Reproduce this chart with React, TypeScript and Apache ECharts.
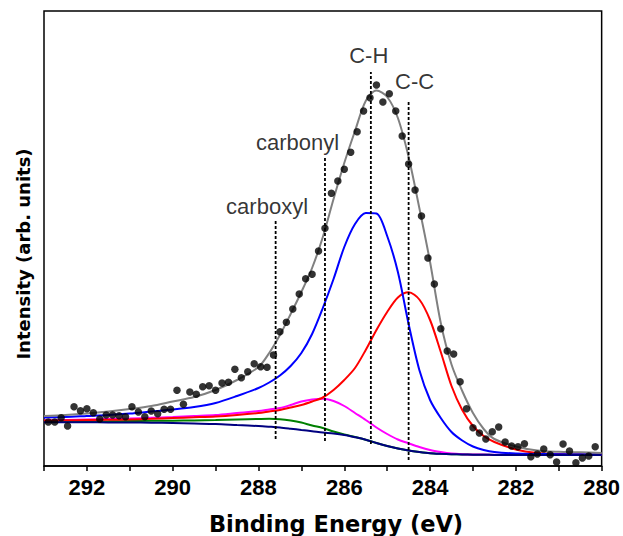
import React, { useEffect, useRef } from 'react';
import * as echarts from 'echarts';

// Binding energies (eV) at which the fitted curves were read
const CURVE_X = [293, 292.5, 292, 291.5, 291, 290.5, 290, 289.5, 289, 288.5, 288, 287.75, 287.5, 287.25, 287, 286.75, 286.5, 286.25, 286, 285.75, 285.5, 285.25, 285, 284.75, 284.5, 284.25, 284, 283.75, 283.5, 283.25, 283, 282.75, 282.5, 282, 281.5, 281, 280.5, 280];

// Fitted envelope (grey)
const ENVELOPE = [50, 51, 52.5, 54.5, 57, 60, 64.5, 69, 76, 86, 99, 113, 131, 152, 174, 198, 229, 267, 303, 335, 365, 375.5, 369, 348, 309, 258, 204, 143, 101.5, 75, 53, 37, 27, 19.5, 15.5, 14.2, 13.7, 13];
// C-H component (blue)
const CH_PEAK = [48.5, 49, 50, 51, 52.5, 54.5, 56.5, 59, 63, 70, 78, 83.5, 90.5, 100, 113, 132, 158, 187, 219, 242, 253, 252.5, 230, 194, 142, 96, 66, 48, 34, 25.5, 19.5, 16, 14, 12.5, 12, 11.8, 11.7, 11.6];
// C-C component (red)
const CC_PEAK = [45.5, 45.7, 46, 46.2, 46.5, 47.2, 48, 48.7, 49.5, 51, 53, 54.5, 56, 58.5, 61, 64.5, 68.5, 76, 86, 98, 116, 136, 154, 168.5, 173.7, 166.5, 146, 114, 80, 56, 40, 30, 24, 16.5, 13, 12, 11.7, 11.5];
// carbonyl component (magenta)
const CARBONYL_PEAK = [45.5, 46, 46.5, 47, 47.5, 48.2, 49, 50, 51, 53, 55, 56.5, 58, 61, 64.5, 66.5, 67.3, 65, 60, 53, 46, 38.5, 32, 26.5, 22.7, 19, 16, 14, 12.5, 11.8, 11.5, 11.4, 11.3, 11.3, 11.2, 11.2, 11.2, 11.2];
// carboxyl component (green)
const CARBOXYL_PEAK = [44.3, 44.4, 44.5, 44.7, 45, 45.2, 45.3, 45.6, 46, 46.5, 47, 47.2, 46.8, 45.5, 43.5, 40.5, 38, 34.5, 31.5, 29, 26.3, 23, 20, 17.5, 15.5, 14, 12.8, 12.2, 11.8, 11.5, 11.3, 11.2, 11.1, 11, 11, 11, 11, 11];
// background (navy)
const BACKGROUND = [43.7, 43.7, 43.7, 43.6, 43.5, 43.3, 43, 42.5, 42, 41, 40, 39.3, 38.5, 37.3, 36, 34.8, 33.5, 32.5, 31, 28.8, 26.3, 23, 20, 17.5, 15.5, 14, 12.8, 12.2, 11.8, 11.5, 11.3, 11.2, 11.1, 11, 11, 11, 11, 11];

// Measured points (black dots)
const DATA_X = [292.9, 292.75, 292.6, 292.45, 292.3, 292.15, 292.0, 291.85, 291.7, 291.55,
  291.4, 291.25, 291.1, 290.95, 290.8, 290.65, 290.5, 290.35, 290.2, 290.05,
  289.9, 289.75, 289.6, 289.45, 289.3, 289.15, 289.0, 288.85, 288.7, 288.55,
  288.4, 288.25, 288.1, 287.95, 287.8, 287.65, 287.5, 287.35, 287.2, 287.05,
  286.9, 286.75, 286.6, 286.45, 286.3, 286.15, 286.0, 285.85, 285.7, 285.55,
  285.4, 285.25, 285.1, 284.95, 284.8, 284.65, 284.5, 284.35, 284.2, 284.05,
  283.9, 283.75, 283.6, 283.45, 283.3, 283.15, 283.0, 282.85, 282.7, 282.55,
  282.4, 282.25, 282.1, 281.95, 281.8, 281.65, 281.5, 281.35, 281.2, 281.05,
  280.9, 280.75, 280.6, 280.45, 280.3, 280.15];
const DATA_Y = [44, 44, 48.3, 40, 59.3, 55.3, 57.3, 53.3, 47, 51,
  51, 50.3, 49.3, 59.3, 54, 49.3, 55, 52.3, 56.7, 56.7,
  75.7, 61.7, 74, 71.7, 79.3, 80.3, 75.7, 83, 83.7, 96.7,
  88.3, 94.3, 102.3, 99.3, 98.7, 111, 134.3, 143.7, 157, 172,
  187.3, 191.7, 215, 237.7, 272.7, 285, 296.7, 313.7, 334.3, 355,
  368.3, 381, 364, 372.3, 355, 330, 302, 276, 250, 208,
  182, 137.3, 115, 112, 84.3, 57.3, 38.3, 33, 27, 34.3,
  39, 24, 20, 19.3, 22.3, 9.3, 12, 17, 11.3, 4,
  22, 15, 3.3, 8, 10, 19.3];

// Peak-position markers (dashed lines) and their labels
const MARKER_X = [287.6, 286.45, 285.38, 284.5];
const MARKER_TOP = [246, 308, 394, 364];
const MARKER_BOTTOM = [27, 25, 22, 6];
const LABELS = ['carboxyl', 'carbonyl', 'C-H', 'C-C'];
const LABEL_X = [287.8, 287.09, 285.43, 284.36];
const LABEL_Y = [260, 323.7, 411, 384.4];

export default function App() {
  const ref = useRef<HTMLDivElement>(null);
  useEffect(() => {
    const chart = echarts.init(ref.current!, null, { renderer: 'svg' });
    const toPairs = (ys: number[]) => CURVE_X.map((x, i) => [x, ys[i]]);
    const curve = (name: string, ys: number[], color: string, z: number) => ({
      type: 'line', name, data: toPairs(ys), showSymbol: false, symbol: 'none',
      smooth: 0.3, lineStyle: { color, width: 2 }, itemStyle: { color }, silent: true, z,
    });
    const dashed = MARKER_X.map((x, i) => ({
      type: 'line', data: [[x, MARKER_BOTTOM[i]], [x, MARKER_TOP[i]]], symbol: 'none', showSymbol: false,
      lineStyle: { color: '#000', width: 1.8, type: [3, 2] }, silent: true, z: 6,
    }));
    chart.setOption({
      animation: false,
      backgroundColor: '#fff',
      grid: { left: 44, right: 21, top: 11, bottom: 70, show: true, borderColor: '#000', borderWidth: 1.5, backgroundColor: 'transparent' },
      xAxis: {
        type: 'value', min: 280, max: 293, interval: 1, inverse: true,
        axisLine: { show: true, lineStyle: { color: '#000', width: 1.5 } },
        axisTick: { show: true, inside: false, length: 5, lineStyle: { color: '#000', width: 1.5 } },
        axisLabel: {
          margin: 10, color: '#000', fontSize: 22, fontWeight: 'bold', fontFamily: '"Liberation Sans", Arial, sans-serif',
          formatter: (v: number) => (v % 2 === 0 ? String(v) : ''),
          showMaxLabel: true, showMinLabel: true,
        },
        splitLine: { show: false },
      },
      yAxis: {
        type: 'value', min: 0, max: 455,
        axisLine: { show: false }, axisTick: { show: false }, axisLabel: { show: false }, splitLine: { show: false },
      },
      graphic: [
        {
          type: 'text', x: 336, y: 524, silent: true,
          style: { text: 'Binding Energy (eV)', fontSize: 22.5, fontWeight: 'bold', fontFamily: '"DejaVu Sans", Verdana, sans-serif', fill: '#000', align: 'center', verticalAlign: 'middle' },
        },
        {
          type: 'text', x: 23, y: 254, rotation: Math.PI / 2, silent: true,
          style: { text: 'Intensity (arb. units)', fontSize: 18, fontWeight: 'bold', fontFamily: '"DejaVu Sans", Verdana, sans-serif', fill: '#000', align: 'center', verticalAlign: 'middle' },
        },
      ],
      series: [
        curve('background', BACKGROUND, '#000080', 3),
        curve('carboxyl', CARBOXYL_PEAK, '#008000', 2),
        curve('carbonyl', CARBONYL_PEAK, '#ff00ff', 2),
        curve('C-C', CC_PEAK, '#ff0000', 2),
        curve('C-H', CH_PEAK, '#0000ff', 2),
        curve('envelope', ENVELOPE, '#808080', 4),
        ...dashed,
        {
          type: 'scatter', data: DATA_X.map((x, i) => [x, DATA_Y[i]]), symbolSize: 7.5,
          itemStyle: { color: '#000' }, silent: true, z: 7,
        },
        {
          type: 'scatter', silent: true, z: 8, symbolSize: 1, itemStyle: { color: 'rgba(0,0,0,0)' },
          data: LABELS.map((name, i) => ({ name, value: [LABEL_X[i], LABEL_Y[i]] })),
          label: { show: true, position: 'inside', formatter: '{b}', fontSize: 22, color: '#000', fontFamily: '"Liberation Sans", Arial, sans-serif' },
        },
      ],
    });
    return () => chart.dispose();
  }, []);
  return <div ref={ref} style={{ position: 'absolute', left: 0, top: 0, width: 623, height: 536, background: '#fff' }} />;
}
